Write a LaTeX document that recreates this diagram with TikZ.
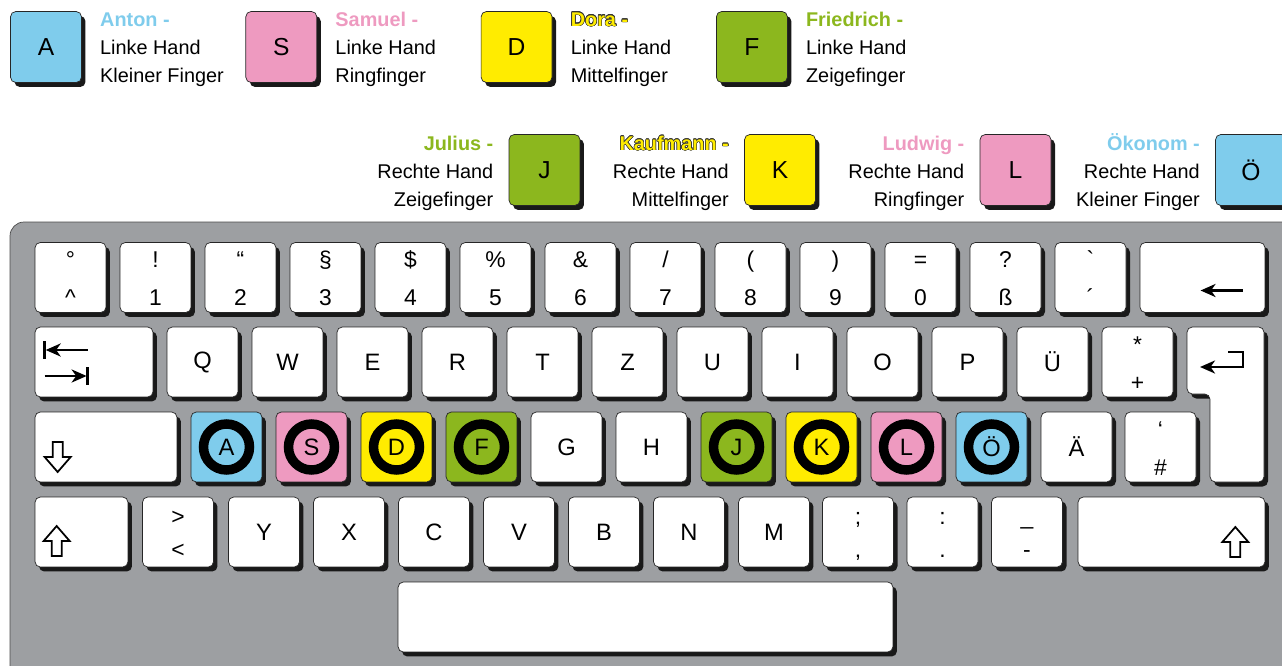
\documentclass[tikz,border=0pt]{standalone}
\usepackage{fontspec}
\setmainfont{Liberation Sans}
\usepackage[copies]{contour}
\usetikzlibrary{arrows.meta,calc,positioning,shadows}
\definecolor{fBlue}{HTML}{7FCCEC}
\definecolor{fPink}{HTML}{EE9AC0}
\definecolor{fYellow}{HTML}{FFEC00}
\definecolor{fGreen}{HTML}{8CB71E}
\definecolor{caseGray}{HTML}{9D9FA2}
\contourlength{0.3pt}
\tikzset{
  hollowup/.pic={\draw[line width=1pt,fill=white,line join=miter]
    (-5,15) -- (5,15) -- (5,0) -- (13,0) -- (0,-15) -- (-13,0) -- (-5,0) -- cycle;}
}

\begin{document}
\begin{tikzpicture}[x=0.02cm,y=-0.02cm,
  keyface/.style={draw=black!85,fill=white,rounded corners=3pt,
    drop shadow={shadow xshift=0.08cm,shadow yshift=-0.09cm,fill=black!90,opacity=1}},
  keycap/.style={keyface,minimum width=1.42cm,minimum height=1.4cm,inner sep=0pt,font=\fontsize{13.5}{15}\selectfont},
  legkey/.style={keycap,minimum height=1.42cm,font=\fontsize{14}{16}\selectfont},
  sym/.style={inner sep=0pt,anchor=base,font=\fontsize{13}{15}\selectfont},
  legtxt/.style={inner sep=0pt,font=\fontsize{11.3}{15.9}\selectfont},
  ring/.style={line width=0.19cm},
  glyph/.style={line width=1.6pt},
  tip/.style={-{Stealth[length=3mm,width=2.6mm,inset=0.9mm]}}]
\useasboundingbox (0,0) rectangle (1282,666);
\draw[black!70,fill=caseGray,rounded corners=8pt] (10,222) rectangle (1300,690);

% legend, left hand
\foreach \i/\k/\col/\ttl/\fing in {
  0/A/fBlue/{\color{fBlue}Anton -}/Kleiner Finger,
  1/S/fPink/{\color{fPink}Samuel -}/Ringfinger,
  2/D/fYellow/{\color{fYellow}\contour{black!80}{Dora -}}/Mittelfinger,
  3/F/fGreen/{\color{fGreen}Friedrich -}/Zeigefinger}{
  \node[legkey,fill=\col] (la\i) at (46+235.3*\i,47) {\k};
  \node[legtxt,align=left,anchor=north west] (lt\i) at ($(la\i.north east)+(18,1)$)
    {{\bfseries\ttl}\\Linke Hand\\\fing};
}
% legend, right hand
\foreach \i/\k/\col/\ttl/\fing in {
  0/J/fGreen/{\color{fGreen}Julius -}/Zeigefinger,
  1/K/fYellow/{\color{fYellow}\contour{black!80}{Kaufmann -}}/Mittelfinger,
  2/L/fPink/{\color{fPink}Ludwig -}/Ringfinger,
  3/Ö/fBlue/{\color{fBlue}Ökonom -}/Kleiner Finger}{
  \node[legkey,fill=\col] (lb\i) at (544.5+235.5*\i,170) {\k};
  \node[legtxt,align=right,anchor=north east] (lu\i) at ($(lb\i.north west)+(-15,-1)$)
    {{\bfseries\vphantom{Ö}\ttl}\\Rechte Hand\\\fing};
}

% number row
\foreach \i/\up/\lo in {0/°/\textasciicircum,1/!/1,2/“/2,3/§/3,4/\$/4,5/\%/5,6/\&/6,
  7/{/}/7,8/(/8,9/)/9,10/=/0,11/?/ß,12/\textasciigrave/´}{
  \node[keycap] (n\i) at (70.5+85*\i,277.5) {};
  \node[sym] (nu\i) at ($(n\i.center)+(0,-10)$) {\up};
  \node[sym] (nl\i) at ($(n\i.center)+(0,28)$) {\lo};
}
\node[keycap,minimum width=2.5cm] (bksp) at (1202.5,277.5) {};
\draw[glyph,tip] ($(bksp.center)+(40,13)$) -- ++(-42,0);

% upper row
\node[keycap,minimum width=2.36cm] (tab) at (94,362) {};
\draw[glyph,tip] ($(tab.west)+(53,-12)$) -- ++(-42,0);
\draw[glyph] ($(tab.west)+(10,-21)$) -- ++(0,18);
\draw[glyph,tip] ($(tab.west)+(10,14)$) -- ++(42,0);
\draw[glyph] ($(tab.west)+(53,5)$) -- ++(0,18);
\foreach \i/\k in {0/Q,1/W,2/E,3/R,4/T,5/Z,6/U,7/I,8/O,9/P,10/Ü}
  \node[keycap] (q\i) at (202.5+85*\i,362) {\k};
\node[keycap] (plus) at (1137.5,362) {};
\node[sym] (plusu) at ($(plus.center)+(0,-10)$) {*};
\node[sym] (plusl) at ($(plus.center)+(0,28)$) {+};
\path[keyface] (1187,327) -- (1264,327) -- (1264,482) -- (1210,482) -- (1210,394) -- (1187,394) -- cycle;
\coordinate (ret) at (1221,360);
\draw[glyph,tip] ($(ret)+(7,-8)$) -- ++(15,0) -- ++(0,15) -- ++(-43,0);

% home row
\node[keycap,minimum width=2.84cm] (caps) at (106,447) {};
\pic[rotate=180] at ($(caps.west)+(23,10)$) {hollowup};
\foreach \i/\k/\col in {0/A/fBlue,1/S/fPink,2/D/fYellow,3/F/fGreen,4/G/white,5/H/white,
  6/J/fGreen,7/K/fYellow,8/L/fPink,9/Ö/fBlue,10/Ä/white}
  \node[keycap,fill=\col] (h\i) at (226.5+85*\i,447) {\k};
\foreach \i in {0,1,2,3,6,7,8,9}
  \draw[ring] (h\i.center) circle[radius=0.46cm];
\node[keycap] (hash) at (1160.5,447) {};
\node[sym] (hashu) at ($(hash.center)+(0,-10)$) {‘};
\node[sym] (hashl) at ($(hash.center)+(0,28)$) {\#};

% lower row
\node[keycap,minimum width=1.86cm] (lsh) at (81.5,532) {};
\pic at ($(lsh.west)+(22,9)$) {hollowup};
\foreach \n/\x/\up/\lo in {lt/178/>/<,semi/858/;/{,},colon/942.5/:/.,dash/1027/\_/-}{
  \node[keycap] (\n) at (\x,532) {};
  \node[sym] (\n u) at ($(\n.center)+(0,-8)$) {\up};
  \node[sym] (\n l) at ($(\n.center)+(0,25)$) {\lo};
}
\foreach \i/\k in {0/Y,1/X,2/C,3/V,4/B,5/N,6/M}
  \node[keycap] (b\i) at (264+85*\i,532) {\k};
\node[keycap,minimum width=3.74cm] (rsh) at (1171.5,532) {};
\pic at ($(rsh.east)+(-30,10)$) {hollowup};

\node[keycap,minimum width=9.9cm] (space) at (645.5,617) {};
\end{tikzpicture}
\end{document}
